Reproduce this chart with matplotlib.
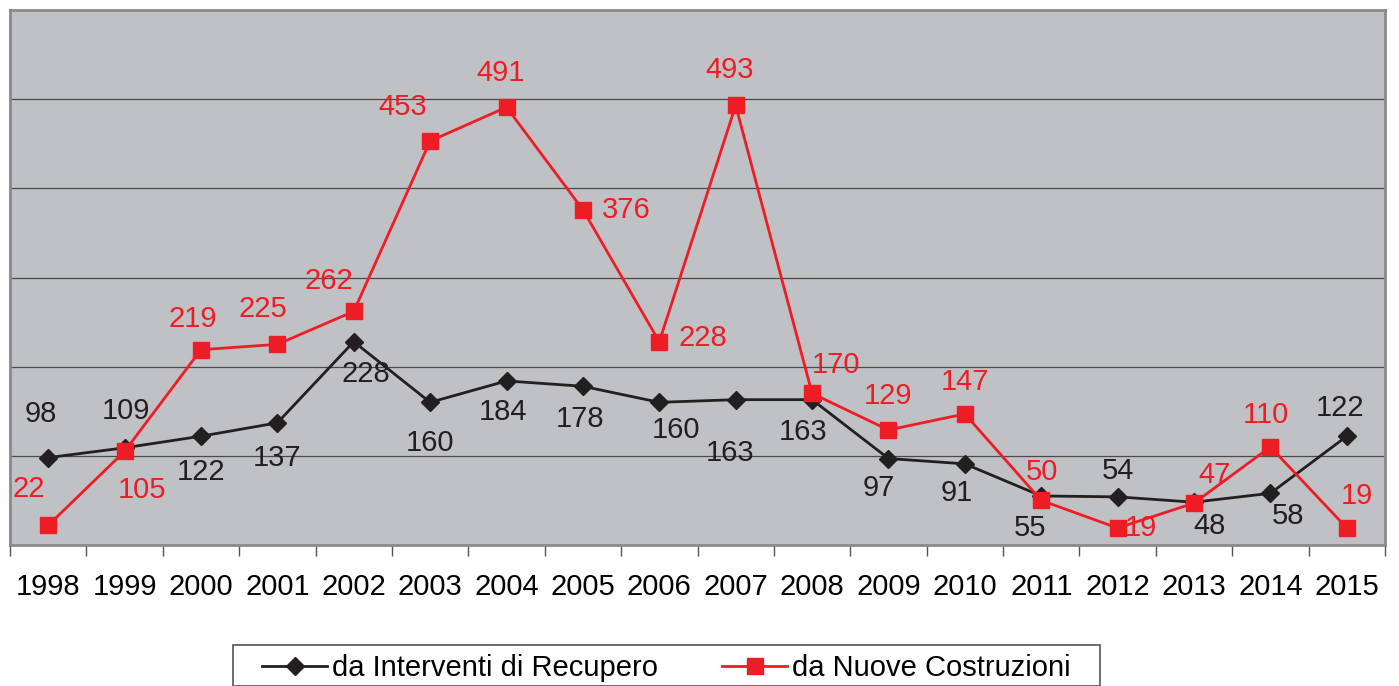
import numpy as np
import matplotlib.pyplot as plt
from matplotlib.patches import Rectangle

plt.rcParams['font.family'] = ['Liberation Sans', 'DejaVu Sans']

years = ['1998', '1999', '2000', '2001', '2002', '2003', '2004', '2005', '2006',
         '2007', '2008', '2009', '2010', '2011', '2012', '2013', '2014', '2015']
recupero = [98, 109, 122, 137, 228, 160, 184, 178, 160, 163, 163, 97, 91, 55, 54, 48, 58, 122]
nuove = [22, 105, 219, 225, 262, 453, 491, 376, 228, 493, 170, 129, 147, 50, 19, 47, 110, 19]

# label offsets in pixels (dx, dy), picked by eye
off_rec = [(-7, 44), (1, 37), (0, -36), (0, -35), (12, -32), (0, -41), (-4, -31), (-3, -33),
           (17, -28), (-6, -53), (-9, -32), (-10, -29), (-8, -29), (-11, -32), (0, 26),
           (16, -24), (18, -23), (-7, 28)]
off_new = [(-19, 36), (17, -39), (-8, 31), (-14, 35), (-25, 30), (-27, 34), (-6, 34), (43, 0),
           (44, 4), (-6, 35), (24, 28), (0, 34), (0, 32), (1, 28), (23, 0), (21, 28),
           (-5, 32), (10, 32)]

black = '#231f20'
red = '#ee1c24'

fig = plt.figure(figsize=(13.99, 6.86), dpi=100)
ax = fig.add_axes([10/1399, 1-545/686, 1375/1399, 535/686])
ax.set_facecolor('#c0c1c5')

x = np.arange(len(years))
ax.plot(x, recupero, color=black, lw=2, marker='D', ms=9, label='da Interventi di Recupero', zorder=3)
ax.plot(x, nuove, color=red, lw=2, marker='s', ms=11.5, label='da Nuove Costruzioni', zorder=4)

for i in range(len(x)):
    ax.annotate(str(recupero[i]), (x[i], recupero[i]), xytext=off_rec[i], textcoords='offset pixels',
                ha='center', va='center', fontsize=21, color=black, zorder=5)
    ax.annotate(str(nuove[i]), (x[i], nuove[i]), xytext=off_new[i], textcoords='offset pixels',
                ha='center', va='center', fontsize=21, color=red, zorder=5)

ax.set_xlim(-0.5, len(years) - 0.5)
ax.set_ylim(0, 600)
ax.set_yticks([])
for yv in range(100, 600, 100):
    ax.axhline(yv, color='#4a4a4a', lw=0.9, zorder=1)

ax.set_xticks(np.arange(-0.5, len(years), 1))
ax.set_xticklabels([])
ax.tick_params(axis='x', which='major', direction='out', length=8, width=1, color='#555555')
ax.set_xticks(x, minor=True)
ax.set_xticklabels(years, minor=True, fontsize=21)
ax.tick_params(axis='x', which='minor', length=0, pad=20)

for s in ax.spines.values():
    s.set_color('#8a8a8c')
    s.set_linewidth(2)

# legend frame drawn by hand (bottom is cut by the figure edge)
fig.patches.append(Rectangle((233/1399, 0), 867/1399, 1-645/686, transform=fig.transFigure,
                             fill=False, edgecolor='#555555', lw=1.2))
fig.legend(loc='center', bbox_to_anchor=(666.5/1399, 1-668/686), ncol=2, fontsize=21,
           frameon=False, handlelength=2.23, handletextpad=0.17,
           columnspacing=2.2, borderpad=0, borderaxespad=0)

fig.savefig('out.png', dpi=100)
